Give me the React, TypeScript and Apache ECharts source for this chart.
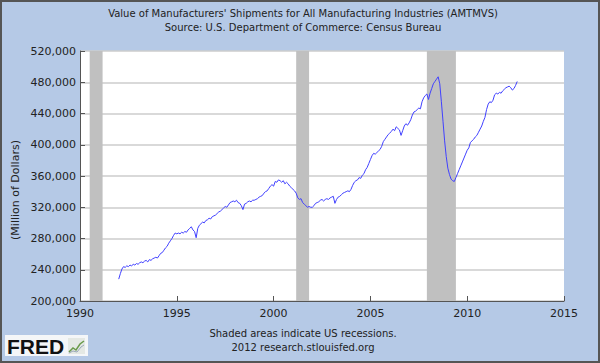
import React, { useEffect, useRef } from "react";
import * as echarts from "echarts";

const titleLines = [
  "Value of Manufacturers' Shipments for All Manufacturing Industries (AMTMVS)",
  "Source: U.S. Department of Commerce: Census Bureau",
];
const footerLines = ["Shaded areas indicate US recessions.", "2012 research.stlouisfed.org"];
const yAxisName = "(Million of Dollars)";
const xTicks = [1990, 1995, 2000, 2005, 2010, 2015];
const yTicks = [200000, 240000, 280000, 320000, 360000, 400000, 440000, 480000, 520000];

// recession periods (decimal years)
const recessions = [
  [1990.5, 1991.1667],
  [2001.1667, 2001.8333],
  [2007.9167, 2009.4167],
];

// monthly shipments, million of dollars
const y1992 = [228000, 235000, 241000, 244000, 243000, 245000, 244000, 246000, 245000, 247000, 246000, 248000];
const y1993 = [247000, 249000, 250000, 249000, 251000, 252000, 250000, 253000, 252000, 254000, 255000, 256000];
const y1994 = [255000, 258000, 261000, 262000, 265000, 268000, 270000, 274000, 277000, 280000, 284000, 287000];
const y1995 = [286000, 287000, 286000, 288000, 287000, 289000, 288000, 291000, 293000, 295000, 291000, 289000];
const y1996 = [281000, 293000, 297000, 299000, 301000, 300000, 303000, 304000, 306000, 305000, 308000, 309000];
const y1997 = [310000, 312000, 314000, 315000, 317000, 319000, 321000, 320000, 323000, 326000, 327000, 328000];
const y1998 = [327000, 329000, 326000, 325000, 322000, 317000, 324000, 325000, 327000, 328000, 327000, 329000];
const y1999 = [329000, 330000, 331000, 333000, 334000, 335000, 338000, 340000, 341000, 344000, 347000, 349000];
const y2000 = [347000, 353000, 352000, 355000, 354000, 352000, 354000, 350000, 352000, 350000, 347000, 345000];
const y2001 = [343000, 341000, 338000, 332000, 330000, 331000, 326000, 324000, 322000, 320000, 321000, 320000];
const y2002 = [320000, 322000, 325000, 326000, 327000, 329000, 330000, 328000, 330000, 331000, 330000, 332000];
const y2003 = [333000, 334000, 325000, 330000, 333000, 334000, 336000, 338000, 339000, 340000, 341000, 340000];
const y2004 = [343000, 348000, 352000, 354000, 355000, 358000, 357000, 361000, 363000, 368000, 371000, 376000];
const y2005 = [381000, 386000, 389000, 388000, 390000, 392000, 394000, 398000, 404000, 407000, 410000, 413000];
const y2006 = [415000, 417000, 420000, 418000, 423000, 421000, 419000, 412000, 418000, 424000, 427000, 425000];
const y2007 = [428000, 432000, 438000, 442000, 443000, 445000, 447000, 446000, 455000, 460000, 463000, 465000];
const y2008 = [458000, 466000, 472000, 478000, 481000, 484000, 487000, 478000, 455000, 430000, 405000, 385000];
const y2009 = [370000, 362000, 356000, 354000, 353000, 358000, 363000, 368000, 373000, 378000, 383000, 388000];
const y2010 = [393000, 396000, 403000, 405000, 407000, 410000, 412000, 416000, 420000, 424000, 430000, 435000];
const y2011 = [445000, 452000, 455000, 454000, 457000, 464000, 466000, 465000, 467000, 466000, 469000, 471000];
const y2012 = [473000, 474000, 475000, 473000, 470000, 472000, 476000, 481000];

const yearly: [number, number[]][] = [
  [1992, y1992], [1993, y1993], [1994, y1994], [1995, y1995], [1996, y1996],
  [1997, y1997], [1998, y1998], [1999, y1999], [2000, y2000], [2001, y2001],
  [2002, y2002], [2003, y2003], [2004, y2004], [2005, y2005], [2006, y2006],
  [2007, y2007], [2008, y2008], [2009, y2009], [2010, y2010], [2011, y2011],
  [2012, y2012],
];

const FONT = "DejaVu Sans";

export default function App() {
  const ref = useRef<HTMLDivElement>(null);
  useEffect(() => {
    if (!ref.current) return;
    const chart = echarts.init(ref.current, undefined, { renderer: "svg" });
    const data: number[][] = [];
    yearly.forEach(([yr, vals]) => {
      vals.forEach((v, m) => data.push([yr + m / 12, v]));
    });
    const fmt = (v: number) => v.toString().replace(/\B(?=(\d{3})+(?!\d))/g, ",");
    chart.setOption({
      animation: false,
      backgroundColor: "#b5c9e6",
      grid: {
        left: 80,
        right: 36,
        top: 51,
        bottom: 62,
        show: true,
        backgroundColor: "#ffffff",
        borderWidth: 0,
      },
      xAxis: {
        type: "value",
        min: xTicks[0],
        max: xTicks[xTicks.length - 1],
        interval: 5,
        axisLine: { show: true, onZero: false, lineStyle: { color: "#555", width: 1 } },
        axisTick: { show: true, inside: true, length: 5, lineStyle: { color: "#555" } },
        axisLabel: { fontFamily: FONT, fontSize: 11, color: "#222", margin: 7, formatter: (v: number) => String(v) },
        splitLine: { show: false },
      },
      yAxis: {
        type: "value",
        min: yTicks[0],
        max: yTicks[yTicks.length - 1],
        interval: 40000,
        axisLine: { show: true, lineStyle: { color: "#555", width: 1 } },
        axisTick: { show: true, inside: true, length: 5, lineStyle: { color: "#555" } },
        axisLabel: { fontFamily: FONT, fontSize: 11, color: "#222", margin: 4, formatter: fmt },
        splitLine: { show: true, lineStyle: { color: "#cccccc", width: 1.5 } },
      },
      series: [
        {
          type: "line",
          data,
          showSymbol: false,
          lineStyle: { color: "#4040ff", width: 1 },
          z: 3,
          markArea: {
            silent: true,
            itemStyle: { color: "#c0c0c0", opacity: 1 },
            data: recessions.map(([a, b]) => [{ xAxis: a }, { xAxis: b }]),
          },
        },
      ],
      graphic: [
        {
          type: "rect",
          shape: { x: 1, y: 1, width: 598, height: 361 },
          style: { fill: "none", stroke: "#555", lineWidth: 2 },
          z: 100,
        },
        {
          type: "text",
          x: 303,
          y: 13,
          style: { text: titleLines[0], fontFamily: FONT, fontSize: 10, fill: "#222", align: "center", verticalAlign: "middle" },
        },
        {
          type: "text",
          x: 303,
          y: 27,
          style: { text: titleLines[1], fontFamily: FONT, fontSize: 10, fill: "#222", align: "center", verticalAlign: "middle" },
        },
        {
          type: "text",
          x: 303,
          y: 333,
          style: { text: footerLines[0], fontFamily: FONT, fontSize: 10, fill: "#222", align: "center", verticalAlign: "middle" },
        },
        {
          type: "text",
          x: 303,
          y: 347,
          style: { text: footerLines[1], fontFamily: FONT, fontSize: 10, fill: "#222", align: "center", verticalAlign: "middle" },
        },
        {
          type: "text",
          x: 15,
          y: 190,
          rotation: Math.PI / 2,
          style: { text: yAxisName, fontFamily: FONT, fontSize: 11, fill: "#222", align: "center", verticalAlign: "middle" },
        },
        {
          type: "rect",
          shape: { x: 5, y: 335, width: 83, height: 21 },
          style: { fill: "#f4f6f8" },
        },
        {
          type: "text",
          x: 7,
          y: 346,
          style: { text: "FRED", fontFamily: "Liberation Sans", fontWeight: "bold", fontSize: 21, fill: "#111", align: "left", verticalAlign: "middle" },
        },
        {
          type: "rect",
          shape: { x: 68, y: 338, width: 17, height: 16 },
          style: { fill: "#e4e8e4" },
        },
        {
          type: "polyline",
          shape: { points: [[69, 352], [73, 348], [76, 350], [80, 344], [84, 341]] },
          style: { stroke: "#6a9a4a", lineWidth: 1.5, fill: "none" },
        },
        {
          type: "polyline",
          shape: { points: [[69, 353], [73, 351], [77, 352], [81, 347], [84, 345]] },
          style: { stroke: "#9aa8b8", lineWidth: 1, fill: "none" },
        },
      ],
    });
    return () => chart.dispose();
  }, []);
  return <div ref={ref} style={{ position: "absolute", left: 0, top: 0, width: 600, height: 363 }} />;
}
